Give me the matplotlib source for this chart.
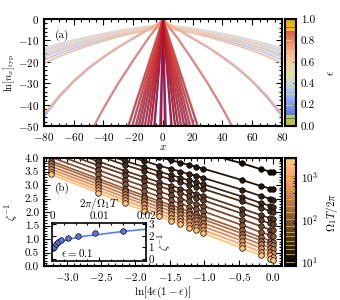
import numpy as np
import matplotlib
matplotlib.use('Agg')
import matplotlib.pyplot as plt
from matplotlib.colors import Normalize, LogNorm
from matplotlib.ticker import MultipleLocator
import matplotlib.cm as cm

plt.rcParams['font.family'] = 'serif'
plt.rcParams['font.serif'] = ['cmr10']
plt.rcParams['mathtext.fontset'] = 'cm'
plt.rcParams['axes.formatter.use_mathtext'] = True
plt.rcParams['font.size'] = 8

# ---- panel (a): typical density profiles ----
x_prof = [0, 3, 10, 20, 30, 40, 50, 60, 70, 80]
eps_prof = [0.2, 0.3, 0.36, 0.4, 0.44, 0.48, 0.5, 0.52, 0.56, 0.6, 0.64, 0.7, 0.8]
lnn_prof = [
    [0, -3.0, -9.2, -19.5, -30.2, -42.0, -55.0, -68.0, -81.0, -94.0],
    [0, -2.2, -5.0, -9.2, -13.3, -18.0, -23.2, -29.3, -36.8, -45.5],
    [0, -3.9, -4.9, -6.2, -7.7, -9.5, -11.5, -13.7, -16.2, -19.2],
    [0, -3.5, -4.3, -5.5, -6.8, -8.4, -10.2, -12.2, -14.4, -17.0],
    [0, -3.1, -3.8, -4.8, -6.0, -7.4, -9.0, -10.7, -12.7, -15.0],
    [0, -2.9, -3.6, -4.5, -5.6, -6.9, -8.4, -10.0, -11.8, -14.0],
    [0, -2.8, -3.5, -4.4, -5.5, -6.8, -8.2, -9.8, -11.6, -13.7],
    [0, -2.9, -3.7, -4.6, -5.7, -7.1, -8.6, -10.2, -12.1, -14.3],
    [0, -3.3, -4.1, -5.1, -6.4, -8.0, -9.6, -11.5, -13.6, -16.0],
    [0, -3.6, -4.6, -5.7, -7.2, -8.8, -10.7, -12.7, -15.1, -17.8],
    [0, -4.2, -5.3, -6.6, -8.3, -10.3, -12.4, -14.8, -17.5, -20.7],
    [0, -2.0, -4.8, -8.9, -13.0, -17.6, -22.7, -28.8, -36.0, -44.5],
    [0, -2.8, -9.0, -19.2, -29.8, -41.5, -54.5, -67.0, -80.0, -93.0],
]
# steep profiles: distance |x| where ln n reaches -50
eps_steep = [0.01, 0.02, 0.03, 0.04, 0.05, 0.06, 0.07, 0.08, 0.09, 0.1,
             0.9, 0.91, 0.92, 0.93, 0.94, 0.95, 0.96, 0.97, 0.98, 0.99]
cross_steep = [2.0, 5.5, 8.0, 10.0, 12.0, 14.0, 16.0, 18.0, 20.5, 23.0,
               23.5, 20.8, 18.5, 16.5, 14.5, 12.3, 10.2, 8.3, 6.0, 1.2]

# ---- panel (b): inverse localization length ----
eps_b = [0.01, 0.02, 0.03, 0.04, 0.05, 0.06, 0.07, 0.08, 0.09, 0.1, 0.2, 0.3, 0.4, 0.5]
period_b = [10, 15, 20, 25, 30, 40, 50, 70, 100, 150, 200, 300, 500, 1000, 2500]
zeta_b = [
    [5.76, 5.20, 4.90, 4.71, 4.57, 4.46, 4.38, 4.30, 4.25, 4.20, 3.80, 3.58, 3.50, 3.48],
    [5.29, 4.72, 4.39, 4.19, 4.03, 3.92, 3.83, 3.74, 3.67, 3.61, 3.18, 2.96, 2.87, 2.84],
    [5.02, 4.43, 4.10, 3.89, 3.72, 3.60, 3.50, 3.40, 3.34, 3.27, 2.82, 2.59, 2.49, 2.46],
    [4.83, 4.23, 3.89, 3.67, 3.50, 3.37, 3.27, 3.17, 3.10, 3.03, 2.57, 2.33, 2.23, 2.20],
    [4.69, 4.09, 3.74, 3.52, 3.34, 3.21, 3.11, 3.00, 2.93, 2.86, 2.39, 2.15, 2.04, 2.01],
    [4.49, 3.88, 3.52, 3.29, 3.11, 2.98, 2.87, 2.76, 2.68, 2.61, 2.12, 1.88, 1.77, 1.74],
    [4.36, 3.73, 3.38, 3.14, 2.96, 2.82, 2.70, 2.59, 2.52, 2.44, 1.94, 1.69, 1.58, 1.55],
    [4.19, 3.56, 3.19, 2.95, 2.76, 2.62, 2.50, 2.39, 2.31, 2.23, 1.72, 1.47, 1.35, 1.32],
    [4.03, 3.39, 3.02, 2.77, 2.58, 2.43, 2.31, 2.20, 2.11, 2.03, 1.51, 1.25, 1.14, 1.10],
    [3.89, 3.24, 2.86, 2.61, 2.41, 2.26, 2.14, 2.02, 1.93, 1.84, 1.32, 1.06, 0.94, 0.90],
    [3.80, 3.15, 2.77, 2.51, 2.31, 2.16, 2.03, 1.91, 1.82, 1.73, 1.20, 0.94, 0.82, 0.78],
    [3.69, 3.04, 2.65, 2.39, 2.19, 2.04, 1.91, 1.79, 1.69, 1.60, 1.06, 0.80, 0.68, 0.64],
    [3.59, 2.93, 2.54, 2.28, 2.07, 1.91, 1.78, 1.66, 1.57, 1.47, 0.93, 0.66, 0.53, 0.50],
    [3.49, 2.82, 2.43, 2.16, 1.95, 1.79, 1.66, 1.53, 1.44, 1.34, 0.79, 0.52, 0.39, 0.35],
    [3.39, 2.72, 2.32, 2.05, 1.84, 1.68, 1.54, 1.42, 1.32, 1.22, 0.66, 0.39, 0.26, 0.22],
]

# inset: eps = 0.1
inset_x = [0.0003, 0.0005, 0.0009, 0.0013, 0.002, 0.0033, 0.0055, 0.0092, 0.015]
inset_y = [0.98, 1.06, 1.25, 1.46, 1.65, 1.81, 2.01, 2.22, 2.41]
fit_x = [0, 0.0005, 0.001, 0.002, 0.004, 0.007, 0.01, 0.015, 0.02]
fit_y = [0.9, 1.1, 1.25, 1.5, 1.75, 1.98, 2.12, 2.38, 2.58]


def style(ax):
    ax.tick_params(which='both', direction='in', top=True, right=True, width=0.8)
    ax.tick_params(which='major', length=4)
    ax.tick_params(which='minor', length=2)
    for s in ax.spines.values():
        s.set_linewidth(1.5)


fig = plt.figure(figsize=(3.4, 3.0), dpi=100)
ax_a = fig.add_axes([0.1294, 0.58, 0.70, 0.3567])
cax_a = fig.add_axes([0.838, 0.58, 0.033, 0.3567])
ax_b = fig.add_axes([0.1294, 0.1133, 0.70, 0.36])
cax_b = fig.add_axes([0.838, 0.1133, 0.033, 0.36])

norm_a = Normalize(0, 1)
cmap_a = plt.get_cmap('coolwarm')

curves = []
for e, yy in zip(eps_prof, lnn_prof):
    xs = np.array(x_prof, float)
    ys = np.array(yy, float)
    curves.append((e, np.concatenate([-xs[::-1], xs[1:]]), np.concatenate([ys[::-1], ys[1:]])))
for e, c in zip(eps_steep, cross_steep):
    curves.append((e, np.array([-c, 0, c]), np.array([-50, 0, -50])))
curves.sort(key=lambda t: t[0])
for e, xs, ys in curves:
    ax_a.plot(xs, ys, color=cmap_a(norm_a(e)), lw=1.3)

ax_a.set_xlim(-80, 80)
ax_a.set_ylim(-50, 0)
ax_a.xaxis.set_major_locator(MultipleLocator(20))
ax_a.xaxis.set_minor_locator(MultipleLocator(5))
ax_a.yaxis.set_major_locator(MultipleLocator(10))
ax_a.yaxis.set_minor_locator(MultipleLocator(2))
ax_a.set_xlabel(r'$x$', labelpad=0)
ax_a.set_ylabel(r'$\ln[n_x]_{\rm typ}$', fontsize=7.5)
ax_a.yaxis.set_label_coords(-0.113, 0.5)
ax_a.text(0.045, 0.85, '(a)', transform=ax_a.transAxes, va='center')
style(ax_a)

sm_a = cm.ScalarMappable(norm=norm_a, cmap=cmap_a)
cb_a = fig.colorbar(sm_a, cax=cax_a)
cb_a.set_ticks([0, 0.2, 0.4, 0.6, 0.8, 1.0])
cb_a.ax.yaxis.set_major_formatter(plt.FormatStrFormatter('%.1f'))
for e in eps_prof + eps_steep:
    cb_a.ax.axhline(e, color='#f0f000', lw=0.5)
cb_a.set_label(r'$\epsilon$', labelpad=8)
cb_a.ax.tick_params(direction='in', length=3)
cb_a.outline.set_linewidth(1.5)

# panel (b)
norm_b = LogNorm(8, 2700)
cmap_b = plt.get_cmap('copper')
xb = np.log(4 * np.array(eps_b) * (1 - np.array(eps_b)))
for T, row in zip(period_b, zeta_b):
    col = cmap_b(norm_b(T))
    ax_b.plot(xb, row, '-', color=col, lw=1.3)
    ax_b.plot(xb, row, 'o', color=col, ms=4, mec='k', mew=0.5)

ax_b.set_xlim(-3.33, 0.13)
ax_b.set_ylim(0, 4)
ax_b.xaxis.set_major_locator(MultipleLocator(0.5))
ax_b.xaxis.set_minor_locator(MultipleLocator(0.1))
ax_b.yaxis.set_major_locator(MultipleLocator(0.5))
ax_b.yaxis.set_minor_locator(MultipleLocator(0.1))
ax_b.xaxis.set_major_formatter(plt.FormatStrFormatter('$%.1f$'))
ax_b.yaxis.set_major_formatter(plt.FormatStrFormatter('%.1f'))
ax_b.set_xlabel(r'$\ln[4\epsilon(1-\epsilon)]$', labelpad=1)
ax_b.set_ylabel(r'$\zeta^{-1}$')
ax_b.yaxis.set_label_coords(-0.1, 0.5)
ax_b.text(0.045, 0.72, '(b)', transform=ax_b.transAxes, va='center')
style(ax_b)

sm_b = cm.ScalarMappable(norm=norm_b, cmap=cmap_b)
cb_b = fig.colorbar(sm_b, cax=cax_b)
for T in period_b:
    cb_b.ax.axhline(T, color='#c8c000', lw=0.6)
cb_b.set_label(r'$\Omega_1 T/2\pi$', labelpad=4)
cb_b.ax.tick_params(which='both', direction='in')
cb_b.outline.set_linewidth(1.5)

# inset
ax_in = ax_b.inset_axes([0.034, 0.046, 0.395, 0.35])
ax_in.set_facecolor('white')
blue = cmap_a(norm_a(0.1))
ax_in.plot(fit_x, fit_y, color=(0.35, 0.5, 0.95), lw=1.2)
ax_in.plot(inset_x, inset_y, 'o', color=blue, ms=4, mec='k', mew=0.5)
ax_in.set_xlim(0, 0.02)
ax_in.set_ylim(-0.2, 3.1)
ax_in.set_xticks([0, 0.01, 0.02])
ax_in.set_xticklabels(['0', '0.01', '0.02'])
ax_in.xaxis.set_minor_locator(MultipleLocator(0.0025))
ax_in.set_yticks([0, 1, 2, 3])
ax_in.set_yticklabels(['0', '1', '2', '3'])
ax_in.tick_params(which='both', direction='in', top=True, bottom=True, left=True, right=True,
                  labeltop=True, labelbottom=False, labelleft=False, labelright=True,
                  width=0.8, pad=1.5)
ax_in.tick_params(which='major', length=3)
ax_in.tick_params(which='minor', length=1.5)
ax_in.xaxis.set_label_position('top')
ax_in.yaxis.set_label_position('right')
ax_in.set_xlabel(r'$2\pi/\Omega_1 T$', labelpad=3.5)
ax_in.set_ylabel(r'$\zeta^{-1}$', labelpad=2)
ax_in.text(0.1, 0.2, r'$\epsilon=0.1$', transform=ax_in.transAxes, va='center')
for s in ax_in.spines.values():
    s.set_linewidth(1.2)

fig.savefig('out.png', dpi=100)
